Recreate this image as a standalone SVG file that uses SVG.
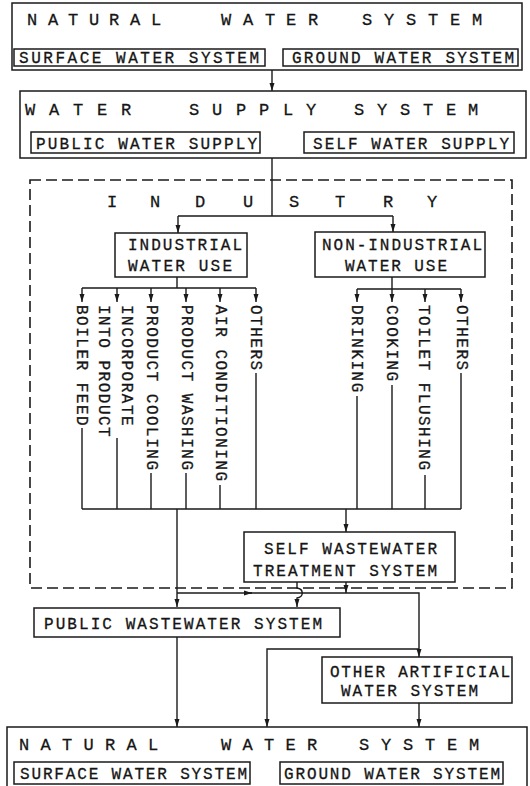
<svg xmlns="http://www.w3.org/2000/svg" width="530" height="786" viewBox="0 0 530 786">
<defs>
<style>
.b{fill:none;stroke:#1a1a1a;stroke-width:1.5}
.c{fill:none;stroke:#1a1a1a;stroke-width:1.4}
.d{fill:none;stroke:#1a1a1a;stroke-width:1.6;stroke-dasharray:11 5}
text{font-family:"Liberation Mono","DejaVu Sans Mono",monospace;fill:#151515;stroke:#151515;stroke-width:0.3;font-size:16px}
.h{font-size:17px}
.v{letter-spacing:1.5px}
.ar{marker-end:url(#a)}
</style>
<marker id="a" viewBox="0 0 8 8" refX="8" refY="4" markerWidth="8" markerHeight="8" orient="auto" markerUnits="userSpaceOnUse"><path d="M0,1.5L8,4L0,6.5z" fill="#1a1a1a"/></marker>
</defs>
<rect width="530" height="786" fill="#fff"/>

<g id="natural-water-system-top">
<rect class="b" x="12" y="3" width="510" height="67"/>
<text class="h" y="25" x="27 48 68 89 109 130 151 185 221 243 265 286 308 335 362 384 406 428 450 472">NATURAL WATER SYSTEM</text>
<rect class="b" x="14" y="49" width="251" height="17"/>
<text x="19" y="62.5" textLength="240" lengthAdjust="spacing">SURFACE WATER SYSTEM</text>
<rect class="b" x="283" y="49" width="235" height="17"/>
<text x="292" y="62.5" textLength="222" lengthAdjust="spacing">GROUND WATER SYSTEM</text>
</g>

<g id="water-supply-system">
<rect class="b" x="20" y="91" width="506" height="67"/>
<text class="h" y="115" x="25 49 73 97 121 150 189 212 236 259 283 306 330 354 377 400 423 446 468">WATER SUPPLY SYSTEM</text>
<rect class="b" x="31" y="132" width="229" height="21"/>
<text x="36" y="148.5" textLength="221" lengthAdjust="spacing">PUBLIC WATER SUPPLY</text>
<rect class="b" x="304" y="132" width="210" height="21"/>
<text x="313" y="148.5" textLength="196" lengthAdjust="spacing">SELF WATER SUPPLY</text>
</g>

<g id="industry">
<rect class="d" x="30" y="180" width="482" height="408"/>
<text class="h" y="207" x="112 155 200 248 294 340 388 432" text-anchor="middle">INDUSTRY</text>
</g>

<g id="industrial-water-use">
<rect class="b" x="115" y="233" width="132" height="44"/>
<text x="128" y="250" textLength="114" lengthAdjust="spacing">INDUSTRIAL</text>
<text x="128" y="271" textLength="104" lengthAdjust="spacing">WATER USE</text>
</g>

<g id="non-industrial-water-use">
<rect class="b" x="315" y="232" width="170" height="45"/>
<text x="322" y="250" textLength="160" lengthAdjust="spacing">NON-INDUSTRIAL</text>
<text x="345" y="271" textLength="102" lengthAdjust="spacing">WATER USE</text>
</g>

<g id="industrial-uses">
<text class="v" x="77.2" y="305" transform="rotate(90 77.2 305)">BOILER FEED</text>
<text class="v" x="122.2" y="305" transform="rotate(90 122.2 305)">INCORPORATE</text>
<text class="v" x="98.7" y="305" transform="rotate(90 98.7 305)">INTO PRODUCT</text>
<text class="v" x="146.7" y="305" transform="rotate(90 146.7 305)">PRODUCT COOLING</text>
<text class="v" x="181.7" y="305" transform="rotate(90 181.7 305)">PRODUCT WASHING</text>
<text class="v" x="215.7" y="305" transform="rotate(90 215.7 305)">AIR CONDITIONING</text>
<text class="v" x="250.7" y="305" transform="rotate(90 250.7 305)">OTHERS</text>
</g>

<g id="non-industrial-uses">
<text class="v" x="351.7" y="305" transform="rotate(90 351.7 305)">DRINKING</text>
<text class="v" x="386.7" y="305" transform="rotate(90 386.7 305)">COOKING</text>
<text class="v" x="419.2" y="305" transform="rotate(90 419.2 305)">TOILET FLUSHING</text>
<text class="v" x="456.7" y="305" transform="rotate(90 456.7 305)">OTHERS</text>
</g>

<g id="self-wastewater-treatment-system">
<rect class="b" x="244" y="532" width="211" height="50"/>
<text x="264" y="554" textLength="173" lengthAdjust="spacing">SELF WASTEWATER</text>
<text x="253" y="576" textLength="184" lengthAdjust="spacing">TREATMENT SYSTEM</text>
</g>

<g id="public-wastewater-system">
<rect class="b" x="34" y="608" width="306" height="29"/>
<text x="44" y="629" textLength="278" lengthAdjust="spacing">PUBLIC WASTEWATER SYSTEM</text>
</g>

<g id="other-artificial-water-system">
<rect class="b" x="322" y="657" width="190" height="46"/>
<text x="330" y="677" textLength="180" lengthAdjust="spacing">OTHER ARTIFICIAL</text>
<text x="341" y="696" textLength="137" lengthAdjust="spacing">WATER SYSTEM</text>
</g>

<g id="natural-water-system-bottom">
<rect class="b" x="7" y="727" width="520" height="70"/>
<text class="h" y="750" x="19 40.5 62 83.5 105 126.5 148 185 221 242.5 264 285.5 307 333 359 381 403 425 447 469">NATURAL WATER SYSTEM</text>
<rect class="b" x="14" y="762" width="236" height="22"/>
<text x="20" y="779" textLength="227" lengthAdjust="spacing">SURFACE WATER SYSTEM</text>
<rect class="b" x="280" y="762" width="223" height="22"/>
<text x="284" y="779" textLength="216" lengthAdjust="spacing">GROUND WATER SYSTEM</text>
</g>

<g id="connectors">
<path class="c ar" d="M272,70V91"/>
<path class="c" d="M272,158V216M178,216H393"/>
<path class="c ar" d="M178,216V233"/>
<path class="c ar" d="M393,216V232"/>
<path class="c" d="M177,277V288M82,288H256"/>
<path class="c ar" d="M82,288V302"/>
<path class="c ar" d="M117,288V302"/>
<path class="c ar" d="M151,288V302"/>
<path class="c ar" d="M186,288V302"/>
<path class="c ar" d="M220,288V302"/>
<path class="c ar" d="M256,288V302"/>
<path class="c" d="M392,277V289M357,289H461"/>
<path class="c ar" d="M357,289V302"/>
<path class="c ar" d="M392,289V302"/>
<path class="c ar" d="M425,289V302"/>
<path class="c ar" d="M461,289V302"/>
<path class="c" d="M82,428V509M117,438V509M151,473V509M186,473V509M220,485V509M256,373V509M357,396V509M392,385V509M425,475V509M461,373V509M82,509H461"/>
<path class="c ar" d="M177,509V607"/>
<path class="c ar" d="M346,509V532"/>
<path class="c ar" d="M346,582V593"/>
<path class="c ar" d="M177,593H252"/>
<path class="c ar" d="M248,593H419V657"/>
<path class="c ar" d="M297,582V588C304,589 304,597 297,598V607"/>
<path class="c ar" d="M177,637V727"/>
<path class="c ar" d="M419,649H267V727"/>
<path class="c ar" d="M419,703V727"/>
</g>
</svg>
